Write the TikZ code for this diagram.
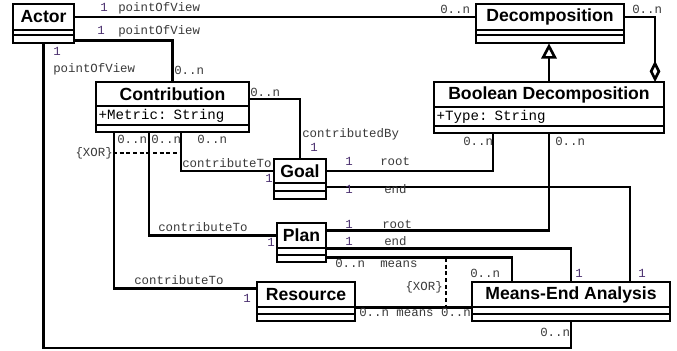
\documentclass[tikz,border=0pt]{standalone}
\usepackage{fontspec}
\setmainfont{Liberation Sans}
\setmonofont{Liberation Mono}
\usetikzlibrary{arrows.meta,positioning}
\definecolor{labelgray}{HTML}{3A3A3A}
\definecolor{multpurple}{HTML}{4A2F6E}
\tikzset{
  umlname/.style={draw=black,line width=1.7pt,fill=white,inner sep=0pt,outer sep=0pt,
    minimum width=#1*0.75pt,minimum height=19pt,
    font=\fontsize{13.2}{15}\selectfont\bfseries},
  umlattr/.style={draw=black,line width=1.7pt,fill=white,inner xsep=2pt,inner ysep=0pt,
    outer sep=0pt,text width=#1,minimum height=14.25pt,align=left,
    font=\fontsize{10.6}{12}\selectfont\ttfamily},
  umlempty/.style={draw=black,line width=1.7pt,fill=white,inner sep=0pt,outer sep=0pt,
    minimum width=#1*0.75pt,minimum height=5.25pt},
  assoc/.style={line width=2pt},
  gen/.style={line width=2pt,-{Triangle[open,length=11.5pt,width=11.5pt]}},
  agg/.style={line width=2pt,-{Diamond[open,length=16pt,width=8pt]}},
  xorline/.style={line width=1.5pt,dash pattern=on 3pt off 2pt},
  lbl/.style={inner sep=0pt,anchor=base west,text=labelgray,
    font=\fontsize{9.3}{11}\selectfont\ttfamily},
  mult/.style={lbl,text=multpurple},
}

\begin{document}
\begin{tikzpicture}[x=0.75pt,y=-0.75pt]
\useasboundingbox (0,0) rectangle (677,350);
% classes
\node (actor) [umlname=61,anchor=north west,minimum height=19.5pt] at (13,4) {Actor};
\node (actor-a) [umlempty=61,below=0pt of actor,minimum height=3.5pt] {};
\node (actor-o) [umlempty=61,below=0pt of actor-a,minimum height=6.5pt] {};
%
\node (decomp) [umlname=148,anchor=north west,minimum height=19.5pt] at (476,4) {Decomposition};
\node (decomp-a) [umlempty=148,below=0pt of decomp,minimum height=3.5pt] {};
\node (decomp-o) [umlempty=148,below=0pt of decomp-a,minimum height=6.5pt] {};
%
\node (bool) [umlname=230,anchor=north west] at (434,82) {Boolean Decomposition};
\node (bool-a) [umlattr=168.5pt,below=0pt of bool] {+Type: String};
\node (bool-o) [umlempty=230,below=0pt of bool-a] {};
%
\node (contrib) [umlname=153,anchor=north west,minimum height=18pt] at (96,82) {Contribution};
\node (contrib-a) [umlattr=110.75pt,below=0pt of contrib] {+Metric: String};
\node (contrib-o) [umlempty=153,below=0pt of contrib-a] {};
%
\node (goal) [umlname=52,anchor=north west,minimum height=18pt] at (274,159) {Goal};
\node (goal-a) [umlempty=52,below=0pt of goal,minimum height=6pt] {};
\node (goal-o) [umlempty=52,below=0pt of goal-a,minimum height=6pt] {};
%
\node (plan) [umlname=49,anchor=north west] at (277,223) {Plan};
\node (plan-a) [umlempty=49,below=0pt of plan] {};
\node (plan-o) [umlempty=49,below=0pt of plan-a] {};
%
\node (res) [umlname=98,anchor=north west] at (257,282) {Resource};
\node (res-a) [umlempty=98,below=0pt of res] {};
\node (res-o) [umlempty=98,below=0pt of res-a] {};
%
\node (mea) [umlname=198,anchor=north west] at (472,282) {Means-End Analysis};
\node (mea-a) [umlempty=198,below=0pt of mea] {};
\node (mea-o) [umlempty=198,below=0pt of mea-a] {};
%
\coordinate (ctgoal) at ([xshift=6.4pt]contrib-o.south);
\coordinate (ctplan) at ([xshift=-17.6pt]contrib-o.south);
\coordinate (ctres) at ([xshift=-43.9pt]contrib-o.south);
\coordinate (bottomrun) at (0,348);
\coordinate (xortop) at (446,258);
\coordinate (xorbot) at (446,307);
% associations
\draw[assoc] (actor.east) -- (decomp.west);
\draw[assoc] ([yshift=-1pt]actor-o.east) -| (contrib.north);
\draw[assoc] (actor-o.south) -- (actor-o.south |- bottomrun) -| (mea-o.south);
\draw[gen] (bool.north) -- (bool.north |- decomp-o.south);
\draw[agg] (decomp.east) -| ([xshift=-6.75pt]bool.north east);
\draw[assoc] ([yshift=-3.75pt]contrib.east) -| (goal.north);
\draw[assoc] (ctgoal) |- (goal.west);
\draw[assoc] (ctplan) |- (plan.west);
\draw[assoc] (ctres) |- ([yshift=4.5pt]res.west);
\draw[assoc] (goal.east) -| ([xshift=-42pt]bool-o.south);
\draw[assoc] (goal-a.east) -| ([xshift=44.25pt]mea.north);
\draw[assoc] ([yshift=3.75pt]plan.east) -| (bool-o.south);
\draw[assoc] ([yshift=2.6pt]plan-a.east) -| (mea.north);
\draw[assoc] ([yshift=1.1pt]plan-o.east) -| ([xshift=-44.25pt]mea.north);
\draw[assoc] (res.south east) -- (mea.south west);
% xor constraints
\node (xor1) [lbl,anchor=east] at (113,153) {\{XOR\}};
\draw[xorline] (xor1.east) -- (xor1.east -| ctgoal);
\node (xor2) [lbl,anchor=base east] at (443,290) {\{XOR\}};
\draw[xorline] (xortop) -- (xorbot);
% role names and multiplicities
\node [mult] at (100,11) {1};
\node [lbl] at (118,11) {pointOfView};
\node [mult] at (97,34) {1};
\node [lbl] at (118,34) {pointOfView};
\node [mult] at (53,55) {1};
\node [lbl] at (53,72) {pointOfView};
\node [lbl] at (174,74) {0..n};
\node [lbl] at (440,13) {0..n};
\node [lbl] at (632,13) {0..n};
\node [lbl] at (250,96) {0..n};
\node [lbl] at (302,137) {contributedBy};
\node [mult] at (310,151) {1};
\node [lbl] at (117,143) {0..n};
\node [lbl] at (151,143) {0..n};
\node [lbl] at (197,143) {0..n};
\node [lbl] at (182,167) {contributeTo};
\node [mult] at (265,182) {1};
\node [lbl] at (463,145) {0..n};
\node [lbl] at (555,145) {0..n};
\node [mult] at (345,165) {1};
\node [lbl] at (380,165) {root};
\node [mult] at (345,193) {1};
\node [lbl] at (384,193) {end};
\node [lbl] at (158,231) {contributeTo};
\node [mult] at (267,246) {1};
\node [lbl] at (134,284) {contributeTo};
\node [mult] at (243,302) {1};
\node [mult] at (345,228) {1};
\node [lbl] at (382,228) {root};
\node [mult] at (345,245) {1};
\node [lbl] at (384,245) {end};
\node [lbl] at (335,267) {0..n};
\node [lbl] at (380,267) {means};
\node [lbl] at (470,277) {0..n};
\node [mult] at (575,277) {1};
\node [mult] at (638,277) {1};
\node [lbl] at (359,316) {0..n means 0..n};
\node [lbl] at (540,336) {0..n};
\end{tikzpicture}
\end{document}
